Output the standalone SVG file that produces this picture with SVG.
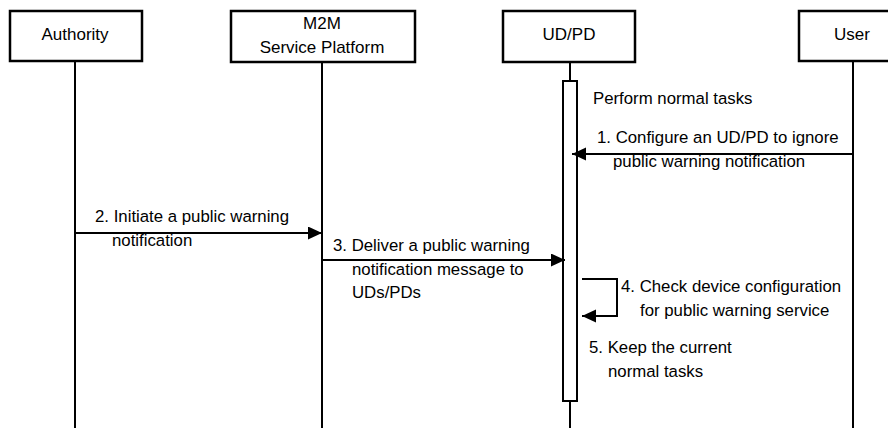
<svg xmlns="http://www.w3.org/2000/svg" width="888" height="428" viewBox="0 0 888 428">
<style>
.box{fill:#fff;stroke:#000;stroke-width:2.5}
.life{stroke:#000;stroke-width:2;fill:none}
.bar{fill:#fff;stroke:#000;stroke-width:2}
.msg{stroke:#000;stroke-width:2;fill:none}
.hd{font-family:"Liberation Sans",Arial,sans-serif;font-size:17px;fill:#000;text-anchor:middle}
.lb{font-family:"Liberation Sans",Arial,sans-serif;font-size:16.8px;fill:#000}
</style>
<defs>
<marker id="ah" markerUnits="userSpaceOnUse" markerWidth="15" markerHeight="14" refX="14" refY="6.5" orient="auto">
<path d="M0,0 L14,6.5 L0,13 z" fill="#000"/>
</marker>
</defs>
<rect width="888" height="428" fill="#fff"/>
<g id="lifelines">
<line class="life" x1="75" y1="61" x2="75" y2="428"/>
<line class="life" x1="322" y1="62" x2="322" y2="428"/>
<line class="life" x1="570" y1="62" x2="570" y2="428"/>
<line class="life" x1="853" y1="61" x2="853" y2="428"/>
</g>
<g id="authority">
<rect class="box" x="10" y="11" width="132" height="50"/>
<text class="hd" x="75" y="40">Authority</text>
</g>
<g id="m2m">
<rect class="box" x="231" y="11" width="184" height="51"/>
<text class="hd" x="322" y="29">M2M</text>
<text class="hd" x="322" y="53">Service Platform</text>
</g>
<g id="udpd">
<rect class="box" x="503" y="11" width="132" height="51"/>
<text class="hd" x="569" y="40">UD/PD</text>
<rect class="bar" x="563" y="81" width="14" height="320"/>
</g>
<g id="user">
<rect class="box" x="799" y="11" width="95" height="50"/>
<text class="hd" x="852" y="40">User</text>
</g>
<g id="connectors">
<line class="msg" x1="853" y1="154" x2="572" y2="154" marker-end="url(#ah)"/>
<line class="msg" x1="75" y1="233" x2="322" y2="233" marker-end="url(#ah)"/>
<line class="msg" x1="322" y1="260" x2="565" y2="260" marker-end="url(#ah)"/>
<polyline class="msg" points="582,279 617,279 617,316 582,316" marker-end="url(#ah)"/>
</g>
<g id="labels">
<text class="lb" x="593" y="104">Perform normal tasks</text>
<text class="lb" x="597" y="143">1. Configure an UD/PD to ignore</text>
<text class="lb" x="613" y="167">public warning notification</text>
<text class="lb" x="95" y="222">2. Initiate a public warning</text>
<text class="lb" x="112" y="246">notification</text>
<text class="lb" x="333" y="251">3. Deliver a public warning</text>
<text class="lb" x="352" y="275">notification message to</text>
<text class="lb" x="352" y="298">UDs/PDs</text>
<text class="lb" x="621" y="292">4. Check device configuration</text>
<text class="lb" x="640" y="316">for public warning service</text>
<text class="lb" x="589" y="353">5. Keep the current</text>
<text class="lb" x="608" y="377">normal tasks</text>
</g>
</svg>
